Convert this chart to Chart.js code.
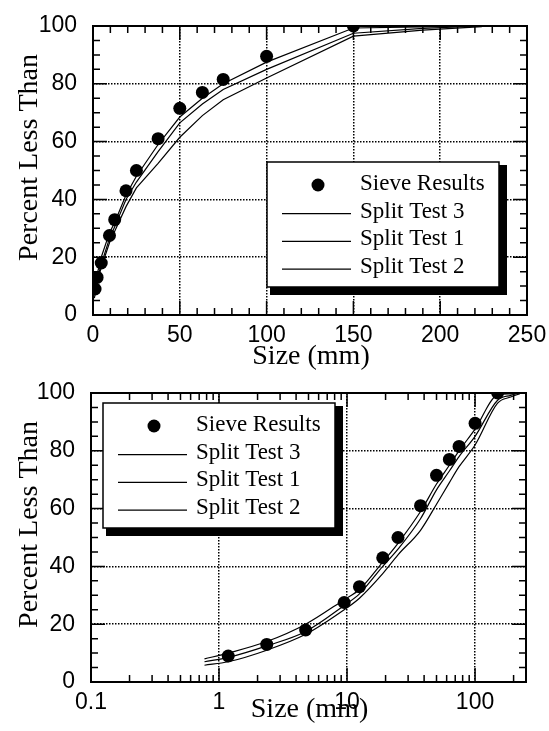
<!DOCTYPE html>
<html>
<head>
<meta charset="utf-8">
<script src="https://cdn.jsdelivr.net/npm/chart.js@4.4.1/dist/chart.umd.min.js"></script>
<style>
  html, body { margin: 0; padding: 0; background: #fff; }
  .box { position: absolute; left: 0; width: 549px; }
  #top { top: 0; height: 372px; }
  #bot { top: 372px; height: 359px; }
</style>
</head>
<body>
<div class="box" id="top"><canvas id="linChart"></canvas></div>
<div class="box" id="bot"><canvas id="logChart"></canvas></div>
<script>
// sieve analysis (size in mm, percent passing)
const sieveSize = [1.18, 2.36, 4.75, 9.5, 12.5, 19, 25, 37.5, 50, 63, 75, 100, 150];
const sievePct  = [9, 13, 18, 27.5, 33, 43, 50, 61, 71.5, 77, 81.5, 89.5, 100];

// image-analysis split tests
const splitSize = [0.77, 1.18, 2.36, 4.75, 9.5, 12.5, 19, 25, 37.5, 50, 63, 75, 100, 150, 190, 224];
const split3 = [8, 10, 14, 20, 28.5, 32, 41.5, 48, 59, 68.5, 75, 80, 87.5, 99.3, 99.7, 100];
const split1 = [7, 8.5, 12.5, 17.5, 26.5, 30.5, 40, 46, 56.5, 66.5, 73, 78, 85, 97.5, 99.2, 100];
const split2 = [5.8, 7, 11, 16.5, 25, 29, 37.5, 44, 52.5, 61.5, 69, 74.5, 82, 96.5, 98.6, 99.8];

const linTicks = [0, 50, 100, 150, 200, 250];
const logTicks = [0.1, 1, 10, 100];
const pctTicks = [0, 20, 40, 60, 80, 100];

const tickFont = { family: 'Liberation Sans', size: 23 };
const serif = 'Liberation Serif';

function minorLinear(min, max, step, skip) {
    const out = [];
    for (let v = min; v <= max; v += step) if (v % skip) out.push(v);
    return out;
}
function minorLog(min, max) {
    const out = [];
    for (let d = min; d < max; d *= 10)
        for (let k = 2; k <= 9; k++) if (d * k <= max) out.push(d * k);
    return out;
}

const frame = {
    id: 'frame',
    beforeDatasetsDraw(chart, args, o) {
        const { ctx, chartArea: a, scales: { x, y } } = chart;
        ctx.save();
        ctx.strokeStyle = '#000';
        ctx.lineWidth = 1.5;
        ctx.beginPath();
        const xs = (vals, len) => vals.forEach(v => {
            const p = x.getPixelForValue(v);
            ctx.moveTo(p, a.bottom); ctx.lineTo(p, a.bottom - len);
            ctx.moveTo(p, a.top); ctx.lineTo(p, a.top + len);
        });
        const ys = (vals, len) => vals.forEach(v => {
            const p = y.getPixelForValue(v);
            ctx.moveTo(a.left, p); ctx.lineTo(a.left + len, p);
            ctx.moveTo(a.right, p); ctx.lineTo(a.right - len, p);
        });
        xs(o.xMinor, 7); xs(o.xMajor, 14);
        ys(minorLinear(0, 100, 5, 20), 7); ys(pctTicks, 14);
        ctx.stroke();
        ctx.lineWidth = 2;
        ctx.strokeRect(a.left, a.top, a.right - a.left, a.bottom - a.top);
        ctx.restore();
    },
    afterDraw(chart, args, o) {
        const { ctx, chartArea: a } = chart;
        ctx.save();
        ctx.fillStyle = '#000';
        // axis titles
        ctx.font = `28px ${serif}`;
        ctx.textAlign = 'center';
        ctx.textBaseline = 'alphabetic';
        ctx.fillText('Size (mm)', (a.left + a.right) / 2 + 1, a.bottom + o.xTitleGap);
        ctx.translate(37, (a.top + a.bottom) / 2 - 13);
        ctx.rotate(-Math.PI / 2);
        ctx.fillText('Percent Less Than', 0, 0);
        ctx.restore();

        // legend box with drop shadow
        const bx = a.left + o.legendAt[0], by = a.top + o.legendAt[1], bw = 232, bh = 125;
        ctx.save();
        ctx.fillStyle = '#000';
        ctx.fillRect(bx + 3, by + 3, bw + 5, bh + 5);
        ctx.fillStyle = '#fff';
        ctx.fillRect(bx, by, bw, bh);
        ctx.strokeStyle = '#000';
        ctx.lineWidth = 1.5;
        ctx.strokeRect(bx, by, bw, bh);
        ctx.font = `23px ${serif}`;
        ctx.textBaseline = 'middle';
        ctx.fillStyle = '#000';
        chart.data.datasets.forEach((ds, i) => {
            const ry = by + 22 + i * 27.7;
            if (ds.showLine) {
                ctx.beginPath();
                ctx.lineWidth = 1.2;
                ctx.moveTo(bx + 15, ry + 2);
                ctx.lineTo(bx + 84, ry + 2);
                ctx.stroke();
            } else {
                ctx.beginPath();
                ctx.arc(bx + 51, ry + 1, 6.5, 0, Math.PI * 2);
                ctx.fill();
            }
            ctx.fillText(ds.label, bx + 93, ry);
        });
        ctx.restore();
    }
};

function makeDatasets(smooth) {
    const pts = (xs, ys) => xs.map((v, i) => ({ x: v, y: ys[i] }));
    const line = (label, ys) => ({
        label, data: pts(splitSize, ys), showLine: true, borderColor: '#000',
        borderWidth: 1.2, pointRadius: 0, fill: false,
        cubicInterpolationMode: smooth ? 'monotone' : 'default',
    });
    return [
        { label: 'Sieve Results', data: pts(sieveSize, sievePct), showLine: false,
          pointRadius: 6.5, pointBackgroundColor: '#000', pointBorderWidth: 0 },
        line('Split Test 3', split3),
        line('Split Test 1', split1),
        line('Split Test 2', split2),
    ];
}

function makeChart(el, cfg) {
    const gridOpts = { color: '#000', lineWidth: 1.5, drawTicks: false };
    const borderOpts = { display: false, dash: [1.5, 1.5] };
    return new Chart(el, {
        type: 'scatter',
        data: { datasets: makeDatasets(cfg.smooth) },
        options: {
            responsive: true,
            maintainAspectRatio: false,
            animation: false,
            layout: { padding: { left: 0, right: cfg.padRight, top: cfg.padTop, bottom: 0 } },
            plugins: {
                legend: { display: false },
                tooltip: { enabled: false },
                frame: cfg.frame,
            },
            scales: {
                x: {
                    type: cfg.xType, min: cfg.xMin, max: cfg.xMax,
                    afterBuildTicks: s => { s.ticks = cfg.xTicks.map(v => ({ value: v })); },
                    afterFit: s => { s.height = cfg.xHeight; s.paddingLeft = 0; s.paddingRight = 0; },
                    grid: gridOpts, border: borderOpts,
                    ticks: { autoSkip: false, maxRotation: 0, padding: 7, color: '#000', font: tickFont,
                             callback: v => String(v) },
                },
                y: {
                    type: 'linear', min: 0, max: 100,
                    afterBuildTicks: s => { s.ticks = pctTicks.map(v => ({ value: v })); },
                    afterFit: s => { s.width = cfg.yWidth; s.paddingTop = 0; s.paddingBottom = 0; },
                    grid: gridOpts, border: borderOpts,
                    ticks: { padding: 16, color: '#000', font: tickFont, callback: v => String(v) },
                },
            },
        },
        plugins: [frame],
    });
}

makeChart(document.getElementById('linChart'), {
    xType: 'linear', xMin: 0, xMax: 250, xTicks: linTicks, smooth: false,
    padTop: 26, padRight: 22, yWidth: 93, xHeight: 57,
    frame: { xMajor: linTicks, xMinor: minorLinear(0, 250, 10, 50), legendAt: [174, 136], xTitleGap: 49 },
});

makeChart(document.getElementById('logChart'), {
    xType: 'logarithmic', xMin: 0.1, xMax: 250, xTicks: logTicks, smooth: true,
    padTop: 21, padRight: 23, yWidth: 91, xHeight: 49,
    frame: { xMajor: logTicks, xMinor: minorLog(0.1, 250), legendAt: [12, 10], xTitleGap: 35 },
});
</script>
</body>
</html>
